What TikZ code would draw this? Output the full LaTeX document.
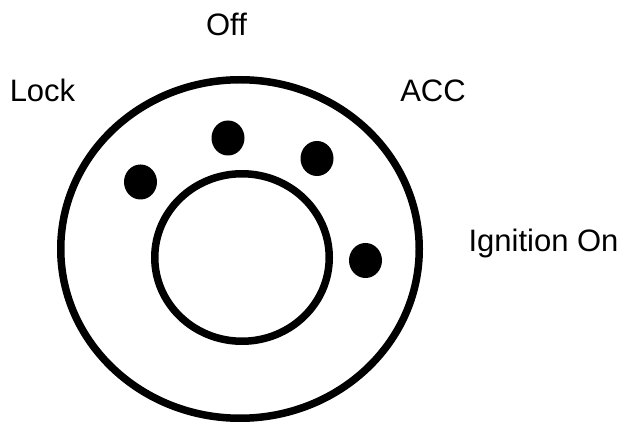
\documentclass[tikz,border=0pt]{standalone}
\usepackage{fontspec}
\setmainfont{Liberation Sans}
\usetikzlibrary{shapes.geometric}

\begin{document}
\begin{tikzpicture}
    [x=1pt, y=1pt,
     ring/.style={ellipse, draw=black, line width=7.5pt, inner sep=0pt},
     pin/.style={ellipse, fill=black, minimum width=33pt, minimum height=35pt, inner sep=0pt},
     label/.style={anchor=base, inner sep=0pt, font=\fontsize{31}{37}\selectfont},
    ]

\useasboundingbox (0,0) rectangle (623,423);

% barrel and cylinder
\node[ring, minimum width=358.5pt, minimum height=338.5pt] (barrel) at (240,174) {};
\node[ring, minimum width=174.5pt, minimum height=167.5pt] (cylinder) at (242,165.5) {};

% key positions
\node[pin] (pin_lock) at (140.5,241) {};
\node[pin] (pin_off) at (228,285) {};
\node[pin] (pin_acc) at (317,264.5) {};
\node[pin] (pin_ign) at (365.5,162.5) {};

\node[label] (lbl_off) at (226.5,387) {Off};
\node[label] (lbl_lock) at (42.5,321) {Lock};
\node[label] (lbl_acc) at (433,321) {ACC};
\node[label] (lbl_ign) at (543.5,171) {Ignition On};

\end{tikzpicture}
\end{document}
